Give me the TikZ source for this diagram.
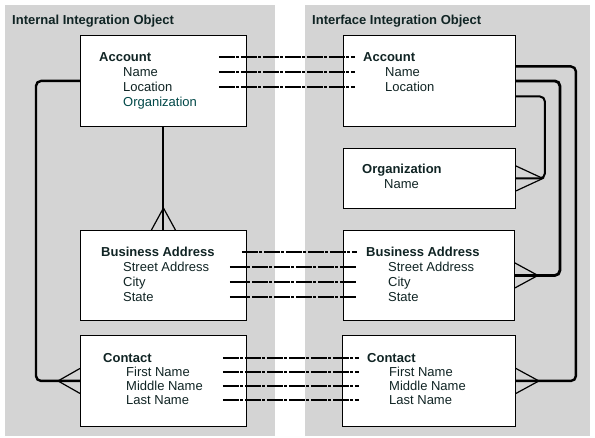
\documentclass[tikz,border=0pt]{standalone}
\usepackage{fontspec}
\setmainfont{Liberation Sans}
\usetikzlibrary{positioning}
\definecolor{panelgray}{RGB}{212,212,212}
\definecolor{ink}{RGB}{16,36,36}
\definecolor{tealink}{RGB}{0,72,72}

\begin{document}
\begin{tikzpicture}[x=1pt, y=-1pt, every node/.style={font=\fontsize{13}{15}\selectfont, text=ink}]
\tikzstyle{panel}=[fill=panelgray, anchor=north west, inner sep=0]
\tikzstyle{box}=[draw, fill=white, line width=0.9pt, anchor=north west, inner sep=0]
\tikzstyle{ttl}=[font=\fontsize{13}{15}\selectfont\bfseries, anchor=west, inner sep=0, text height=9pt, text depth=0pt]
\tikzstyle{attr}=[anchor=west, inner sep=0, text height=9pt, text depth=0pt]
\tikzstyle{rel}=[line width=2.4pt, rounded corners=5pt]
\tikzstyle{leg}=[line width=1.2pt]
\tikzstyle{map}=[line width=2pt, dash pattern=on 16pt off 1.5pt on 3pt off 1.5pt]
\useasboundingbox (0,0) rectangle (595,438);

% two integration objects
\node[panel, minimum width=270pt, minimum height=431pt] (lPanel) at (5,5) {};
\node[panel, minimum width=285pt, minimum height=431pt] (rPanel) at (305,5) {};
\node[ttl] (lPanelT) at (12,20.5) {Internal Integration Object};
\node[ttl] (rPanelT) at (312,20.5) {Interface Integration Object};

% components
\node[box, minimum width=166pt, minimum height=91pt] (lAcc) at (80,35) {};
\node[box, minimum width=166pt, minimum height=90pt] (lBA) at (80,230) {};
\node[box, minimum width=166pt, minimum height=91pt] (lCon) at (80,335) {};
\node[box, minimum width=172pt, minimum height=91pt] (rAcc) at (343,35) {};
\node[box, minimum width=172pt, minimum height=60pt] (rOrg) at (343,148) {};
\node[box, minimum width=171pt, minimum height=90pt] (rBA) at (343,230) {};
\node[box, minimum width=173pt, minimum height=91pt] (rCon) at (342,335) {};

% fields
\node[ttl] (lAccT) at (99,57) {Account};
\node[attr] (lAccA1) at (123,72) {Name};
\node[attr] (lAccA2) at (123,87) {Location};
\node[attr, text=tealink] (lAccA3) at (123,102) {Organization};
\node[ttl] (lBAT) at (101,252) {Business Address};
\foreach \t [count=\i] in {Street Address, City, State}
  \node[attr] (lBAA\i) at (123,252+15*\i) {\t};
\node[ttl] (lConT) at (103,358) {Contact};
\foreach \t [count=\i] in {First Name, Middle Name, Last Name}
  \node[attr] (lConA\i) at (126,358+14*\i) {\t};

\node[ttl] (rAccT) at (363,57) {Account};
\foreach \t [count=\i] in {Name, Location}
  \node[attr] (rAccA\i) at (385,57+15*\i) {\t};
\node[ttl] (rOrgT) at (362,169) {Organization};
\node[attr] (rOrgA1) at (384,184) {Name};
\node[ttl] (rBAT) at (366,252) {Business Address};
\foreach \t [count=\i] in {Street Address, City, State}
  \node[attr] (rBAA\i) at (388,252+15*\i) {\t};
\node[ttl] (rConT) at (367,358) {Contact};
\foreach \t [count=\i] in {First Name, Middle Name, Last Name}
  \node[attr] (rConA\i) at (389,358+14*\i) {\t};

% field mapping
\coordinate (lAccS) at ([xshift=-28pt]lAcc.east);
\coordinate (rAccE) at ([xshift=12pt]rAcc.west);
\coordinate (lBAS0) at ([xshift=-5pt]lBA.east);
\coordinate (lBAS) at ([xshift=-17pt]lBA.east);
\coordinate (rBAE) at ([xshift=14pt]rBA.west);
\coordinate (lConS) at ([xshift=-24pt]lCon.east);
\coordinate (rConE) at ([xshift=17pt]rCon.west);
\foreach \n in {T,A1,A2}
  \draw[map] (lAccS |- lAcc\n.west) -- (rAccE |- rAcc\n.west);
\draw[map] (lBAS0 |- lBAT.west) -- (rBAE |- rBAT.west);
\foreach \n in {A1,A2,A3}
  \draw[map] (lBAS |- lBA\n.west) -- (rBAE |- rBA\n.west);
\foreach \n in {T,A1,A2,A3}
  \draw[map] (lConS |- lCon\n.west) -- (rConE |- rCon\n.west);

% relations, internal side
\draw[rel, line width=2pt] (lAcc.south) -- (lBA.north);
\draw[leg] ([xshift=-12pt]lBA.north) -- ([yshift=22pt]lBA.north) -- ([xshift=12pt]lBA.north);
\draw[rel] (lAcc.west) -- ++(-44,0) |- (lCon.west);
\draw[leg] ([yshift=12.5pt]lCon.west) -- ([xshift=-22pt]lCon.west) -- ([yshift=-12.5pt]lCon.west);

% relations, interface side
\draw[rel] ([yshift=14.5pt]rAcc.east) -- ++(60,0) |- (rCon.east);
\draw[rel, line width=2.8pt] (rAcc.east) -- ++(44,0) |- (rBA.east);
\draw[rel, line width=2pt] ([yshift=-15.5pt]rAcc.east) -- ++(29,0) |- (rOrg.east);
\foreach \b/\d in {rOrg/27pt, rBA/23pt, rCon/23pt}
  \draw[leg] ([yshift=12.5pt]\b.east) -- ([xshift=\d]\b.east) -- ([yshift=-12.5pt]\b.east);
\end{tikzpicture}
\end{document}
